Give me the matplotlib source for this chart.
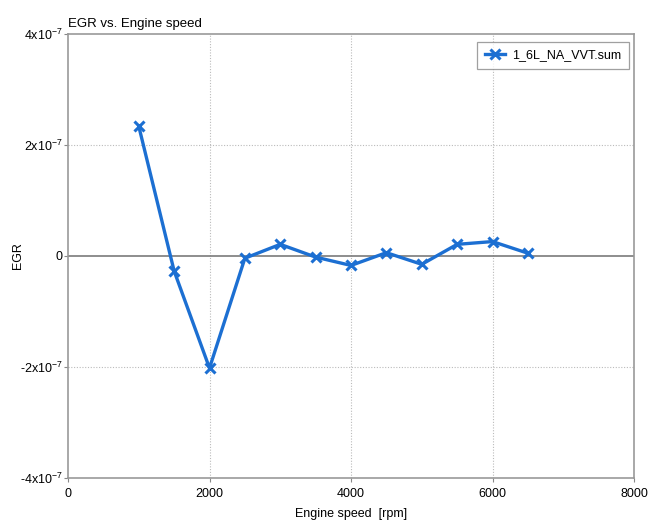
import matplotlib
matplotlib.use("Agg")
import matplotlib.pyplot as plt
from matplotlib.ticker import FixedLocator

plt.rcParams['font.family'] = ['Liberation Sans', 'DejaVu Sans']
plt.rcParams['mathtext.fontset'] = 'custom'
plt.rcParams['mathtext.rm'] = 'Liberation Sans'
plt.rcParams['mathtext.it'] = 'Liberation Sans'
plt.rcParams['mathtext.default'] = 'regular'

speed = [1000, 1500, 2000, 2500, 3000, 3500, 4000, 4500, 5000, 5500, 6000, 6500]
egr = [2.34e-7, -0.27e-7, -2.02e-7, -0.04e-7, 0.21e-7, -0.02e-7, -0.17e-7,
       0.06e-7, -0.15e-7, 0.21e-7, 0.26e-7, 0.05e-7]
series_name = "1_6L_NA_VVT.sum"
yticks = [-4e-7, -2e-7, 0, 2e-7, 4e-7]
ytick_labels = [r'-4x10$^{-7}$', r'-2x10$^{-7}$', '0', r'2x10$^{-7}$', r'4x10$^{-7}$']
xticks = [0, 2000, 4000, 6000, 8000]

fig = plt.figure(figsize=(6.54, 5.22), dpi=100)
ax = fig.add_axes([68/654, 44/522, 566/654, 444/522])

ax.plot(speed, egr, color='#1c6fd2', lw=2.4, marker='x', ms=7, mew=2.2,
        label=series_name, zorder=3)
ax.axhline(0, color='#7a7a7a', lw=1.2, zorder=2)

ax.set_xlim(0, 8000)
ax.set_ylim(-4e-7, 4e-7)
ax.xaxis.set_major_locator(FixedLocator(xticks))
ax.set_xticklabels([str(x) for x in xticks])
ax.yaxis.set_major_locator(FixedLocator(yticks))
ax.set_yticklabels(ytick_labels)
ax.tick_params(axis='both', labelsize=9, length=3, color='#888888', width=0.8)
ax.tick_params(axis='y', pad=1)
ax.tick_params(axis='x', pad=4)

for x in [2000, 4000, 6000]:
    ax.axvline(x, color='#bbbbbb', lw=0.8, ls=(0, (1, 1.5)), zorder=1)
for y in [-2e-7, 2e-7]:
    ax.axhline(y, color='#bbbbbb', lw=0.8, ls=(0, (1, 1.5)), zorder=1)

for s in ax.spines.values():
    s.set_color('#999999')
    s.set_linewidth(1.2)

ax.set_xlabel('Engine speed  [rpm]', fontsize=9, labelpad=6)
ax.set_ylabel('EGR', fontsize=9)
ax.yaxis.set_label_coords(-0.078, 0.5)
ax.set_title('EGR vs. Engine speed', fontsize=9.5, loc='left', pad=5)

leg = ax.legend(loc='upper right', fontsize=9, frameon=True, fancybox=False,
                borderpad=0.6, handlelength=1.6, handletextpad=0.6,
                borderaxespad=0, bbox_to_anchor=(561/566, 436/444))
leg.get_frame().set_edgecolor('#888888')
leg.get_frame().set_linewidth(0.9)

fig.savefig('out.png', dpi=100)
